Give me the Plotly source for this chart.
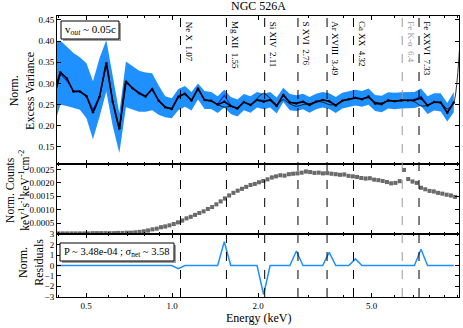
import math

import plotly.graph_objects as go
from plotly.subplots import make_subplots

# ---- data ----
# excess-variance spectrum, one value per energy bin (keV)
nxs_energy = [0.385, 0.406, 0.428, 0.451, 0.475, 0.501, 0.528, 0.557, 0.588, 0.619,
              0.653, 0.689, 0.726, 0.766, 0.807, 0.851, 0.897, 0.946, 0.997, 1.051,
              1.109, 1.169, 1.232, 1.299, 1.370, 1.444, 1.523, 1.605, 1.693, 1.784,
              1.882, 1.984, 2.092, 2.205, 2.325, 2.452, 2.585, 2.726, 2.874, 3.030,
              3.195, 3.368, 3.551, 3.744, 3.947, 4.161, 4.387, 4.626, 4.877, 5.142,
              5.421, 5.716, 6.027, 6.355, 6.699, 7.063, 7.447, 7.852, 8.279, 8.730,
              9.205, 9.703]
nxs = [0.266, 0.326, 0.312, 0.281, 0.281, 0.270, 0.232, 0.269, 0.348, 0.257,
       0.194, 0.304, 0.289, 0.277, 0.269, 0.287, 0.259, 0.244, 0.240, 0.268,
       0.276, 0.260, 0.288, 0.261, 0.259, 0.250, 0.257, 0.247, 0.241, 0.256,
       0.249, 0.261, 0.257, 0.261, 0.247, 0.273, 0.255, 0.253, 0.257, 0.249,
       0.257, 0.261, 0.258, 0.248, 0.259, 0.263, 0.266, 0.263, 0.269, 0.253,
       0.251, 0.260, 0.258, 0.260, 0.260, 0.261, 0.265, 0.248, 0.256, 0.255,
       0.231, 0.255]
nxs_blue = [0.270, 0.322, 0.306, 0.283, 0.282, 0.272, 0.238, 0.270, 0.345, 0.260,
            0.190, 0.302, 0.290, 0.279, 0.271, 0.285, 0.261, 0.245, 0.241, 0.272,
            0.274, 0.260, 0.286, 0.262, 0.259, 0.251, 0.272, 0.248, 0.242, 0.256,
            0.250, 0.262, 0.260, 0.261, 0.248, 0.272, 0.256, 0.254, 0.257, 0.250,
            0.258, 0.261, 0.259, 0.249, 0.260, 0.263, 0.266, 0.264, 0.269, 0.254,
            0.252, 0.260, 0.259, 0.260, 0.260, 0.262, 0.270, 0.249, 0.256, 0.255,
            0.232, 0.254]
band_hi = [0.400, 0.401, 0.387, 0.372, 0.362, 0.348, 0.305, 0.360, 0.403, 0.320,
           0.230, 0.352, 0.342, 0.330, 0.326, 0.324, 0.295, 0.270, 0.265, 0.287,
           0.294, 0.280, 0.300, 0.282, 0.280, 0.270, 0.285, 0.268, 0.262, 0.275,
           0.270, 0.280, 0.276, 0.280, 0.267, 0.290, 0.275, 0.272, 0.276, 0.268,
           0.276, 0.280, 0.277, 0.268, 0.278, 0.282, 0.285, 0.282, 0.288, 0.273,
           0.271, 0.279, 0.278, 0.279, 0.279, 0.280, 0.288, 0.270, 0.277, 0.277,
           0.254, 0.280]
band_lo = [0.200, 0.250, 0.247, 0.243, 0.238, 0.218, 0.168, 0.222, 0.281, 0.200,
           0.136, 0.244, 0.238, 0.233, 0.233, 0.237, 0.226, 0.220, 0.218, 0.237,
           0.245, 0.236, 0.262, 0.240, 0.240, 0.230, 0.243, 0.228, 0.222, 0.237,
           0.231, 0.243, 0.239, 0.243, 0.229, 0.256, 0.237, 0.235, 0.239, 0.231,
           0.239, 0.243, 0.240, 0.230, 0.241, 0.245, 0.248, 0.245, 0.250, 0.235,
           0.232, 0.241, 0.239, 0.241, 0.241, 0.242, 0.247, 0.228, 0.236, 0.234,
           0.210, 0.232]
model_energy = nxs_energy + [10.4]
model = [0.266, 0.326, 0.312, 0.281, 0.281, 0.270, 0.232, 0.269, 0.348, 0.257,
         0.194, 0.306, 0.289, 0.277, 0.269, 0.287, 0.259, 0.244, 0.240, 0.268,
         0.276, 0.260, 0.288, 0.261, 0.259, 0.250, 0.244, 0.246, 0.242, 0.256,
         0.249, 0.265, 0.277, 0.265, 0.250, 0.262, 0.252, 0.246, 0.250, 0.252,
         0.257, 0.256, 0.250, 0.250, 0.259, 0.263, 0.266, 0.263, 0.266, 0.256,
         0.254, 0.259, 0.258, 0.260, 0.260, 0.257, 0.247, 0.248, 0.256, 0.255,
         0.240, 0.255, 0.500]
residuals = [0, 0, 0, 0, 0, 0, 0, 0, 0, 0,
             0, 0, 0, 0, 0, 0, 0, 0, 0, -0.31,
             0, 0, 0, 0, 0, 0, 2.29, 0, 0, 0,
             0, 0, -2.79, 0, 0, 0, 0, 1.40, 0, 0,
             0, 0, 1.27, 0, 0, 0, 0.64, 0, 0, 0,
             0, 0, 0, 0, 0, 0, 1.56, 0, 0, 0,
             0, 0]

# normalised count spectrum
spec_energy = [0.400, 0.414, 0.429, 0.444, 0.459, 0.475, 0.492, 0.509, 0.527, 0.545,
               0.564, 0.584, 0.604, 0.626, 0.647, 0.670, 0.694, 0.718, 0.743, 0.769,
               0.796, 0.824, 0.853, 0.883, 0.914, 0.946, 0.979, 1.013, 1.048, 1.085,
               1.123, 1.162, 1.203, 1.245, 1.289, 1.334, 1.381, 1.429, 1.479, 1.531,
               1.584, 1.640, 1.697, 1.757, 1.818, 1.882, 1.948, 2.016, 2.086, 2.159,
               2.235, 2.313, 2.394, 2.478, 2.565, 2.654, 2.747, 2.843, 2.943, 3.046,
               3.152, 3.263, 3.377, 3.495, 3.617, 3.744, 3.875, 4.011, 4.151, 4.296,
               4.447, 4.602, 4.763, 4.930, 5.103, 5.281, 5.466, 5.657, 5.855, 6.060,
               6.272, 6.492, 6.719, 6.954, 7.198, 7.450, 7.710, 7.980, 8.259, 8.548,
               8.848, 9.157, 9.478, 9.810]
spec = [0.00012, 0.00012, 0.00012, 0.00012, 0.00012, 0.00012, 0.00012, 0.00012, 0.00013, 0.00013,
        0.00013, 0.00013, 0.00013, 0.00013, 0.00014, 0.00014, 0.00015, 0.00015, 0.00016, 0.00018,
        0.00020, 0.00023, 0.00027, 0.00030, 0.00035, 0.00038, 0.00042, 0.00047, 0.00053, 0.00060,
        0.00068, 0.00074, 0.00081, 0.00088, 0.00094, 0.00103, 0.00110, 0.00120, 0.00131, 0.00142,
        0.00153, 0.00163, 0.00171, 0.00178, 0.00185, 0.00192, 0.00196, 0.00202, 0.00207, 0.00213,
        0.00220, 0.00224, 0.00228, 0.00227, 0.00232, 0.00234, 0.00235, 0.00238, 0.00242, 0.00240,
        0.00237, 0.00238, 0.00235, 0.00236, 0.00234, 0.00232, 0.00230, 0.00231, 0.00226, 0.00224,
        0.00222, 0.00218, 0.00216, 0.00217, 0.00212, 0.00210, 0.00207, 0.00203, 0.00198, 0.00200,
        0.00206, 0.00248, 0.00214, 0.00205, 0.00200, 0.00182, 0.00176, 0.00170, 0.00168, 0.00163,
        0.00160, 0.00156, 0.00153, 0.00148]

# atomic lines marked on the plot
line_names = ["Ne X", "Mg XII", "Si XIV", "S XVI", "Ar XVIII", "Ca XX", "Fe K-\u03b1", "Fe XXVI"]
line_energies = [1.07, 1.55, 2.11, 2.76, 3.49, 4.32, 6.4, 7.33]
line_labels = ["1.07", "1.55", "2.11", "2.76", "3.49", "4.32", "6.4", "7.33"]

SERIF = "Liberation Serif, Times New Roman, serif"

# plot area in pixels: x 57..459, y 16..297
def px(x):
    return (x - 57) / 402


def py(y):
    return (297 - y) / 281


fig = make_subplots(rows=3, cols=1, shared_xaxes=True, vertical_spacing=0,
                    row_heights=[148 / 281, 70 / 281, 63 / 281])

# top panel: excess variance
fig.add_trace(go.Scatter(x=nxs_energy, y=band_hi, mode="lines",
                         line=dict(width=0, color="#1E90FF"), showlegend=False),
              row=1, col=1)
fig.add_trace(go.Scatter(x=nxs_energy, y=band_lo, mode="lines", fill="tonexty",
                         fillcolor="#1E90FF", line=dict(width=0, color="#1E90FF"),
                         showlegend=False), row=1, col=1)
fig.add_trace(go.Scatter(x=nxs_energy, y=nxs_blue, mode="lines",
                         line=dict(width=1.2, color="#1030E0"), showlegend=False),
              row=1, col=1)
fig.add_trace(go.Scatter(x=model_energy, y=model, mode="lines",
                         line=dict(width=0.8, color="black", shape="spline", smoothing=0.6),
                         showlegend=False), row=1, col=1)
fig.add_trace(go.Scatter(x=nxs_energy, y=nxs, mode="lines+markers",
                         line=dict(width=1.6, color="black"),
                         marker=dict(size=2.5, color="black"), showlegend=False),
              row=1, col=1)

# middle panel: counts
fig.add_trace(go.Scatter(x=spec_energy, y=spec, mode="markers",
                         marker=dict(symbol="square", size=4, color="#6a6a6a"),
                         error_y=dict(type="constant", value=0.00004, color="#7a7a7a",
                                      thickness=1.2, width=1.5),
                         showlegend=False), row=2, col=1)

# bottom panel: residuals
fig.add_trace(go.Scatter(x=nxs_energy, y=residuals, mode="lines",
                         line=dict(width=1.5, color="#1E90FF"), showlegend=False),
              row=3, col=1)

# vertical line markers with rotated labels
for name, energy, label in zip(line_names, line_energies, line_labels):
    colour = "#9a9a9a" if name.startswith("Fe K") else "black"
    fig.add_shape(type="line", xref="x", yref="paper", x0=energy, x1=energy,
                  y0=0, y1=1, line=dict(color=colour, width=1, dash="dash"))
    fig.add_annotation(x=math.log10(energy), y=0.988, xref="x", yref="paper",
                       text=name + "\u00a0\u00a0" + label, textangle=90, showarrow=False,
                       xanchor="left", yanchor="top", xshift=1,
                       font=dict(family=SERIF, size=9, color=colour))

axis_common = dict(showline=True, linecolor="black", linewidth=1, mirror="ticks",
                   ticks="inside", ticklen=4, tickcolor="black", showgrid=False,
                   zeroline=False, automargin=False,
                   tickfont=dict(family=SERIF, size=9, color="black"))

x_minor = [0.4, 0.6, 0.7, 0.8, 0.9, 3, 4, 6, 7, 8, 9, 10]
for r in (1, 2, 3):
    fig.update_xaxes(type="log", range=[math.log10(0.395), math.log10(10.12)],
                     tickvals=[0.5, 1, 2, 5], ticktext=["0.5", "1.0", "2.0", "5.0"],
                     showticklabels=(r == 3),
                     minor=dict(tickvals=x_minor, ticks="inside", ticklen=2,
                                tickcolor="black"),
                     row=r, col=1, **axis_common)

fig.update_yaxes(range=[0.1098, 0.4594], tickvals=[0.15, 0.20, 0.25, 0.30, 0.35, 0.40, 0.45],
                 tickformat=".2f", row=1, col=1, **axis_common)
fig.update_yaxes(range=[0.0001, 0.0027], tickvals=[0.0005, 0.0010, 0.0015, 0.0020, 0.0025],
                 tickformat=".4f", row=2, col=1, **axis_common)
fig.update_yaxes(range=[-3.03, 3.03], tickvals=[-3, -2, -1, 0, 1, 2, 3],
                 row=3, col=1, **axis_common)

# text boxes with a grey drop shadow
for (x0, y0, x1, y1) in [(61, 21, 119, 39), (60, 243, 174, 261)]:
    fig.add_shape(type="rect", xref="paper", yref="paper",
                  x0=px(x0 + 2), x1=px(x1 + 2), y0=py(y1 + 2), y1=py(y0 + 2),
                  fillcolor="#a0a0a0", line=dict(width=0), layer="above")
    fig.add_shape(type="rect", xref="paper", yref="paper",
                  x0=px(x0), x1=px(x1), y0=py(y1), y1=py(y0),
                  fillcolor="white", line=dict(width=1, color="black"), layer="above")
fig.add_annotation(x=px(90), y=py(30), xref="paper", yref="paper",
                   text="v<sub><i>out</i></sub> ~ 0.05c", showarrow=False,
                   xanchor="center", yanchor="middle",
                   font=dict(family=SERIF, size=11, color="black"))
fig.add_annotation(x=px(117), y=py(252), xref="paper", yref="paper",
                   text="P ~ 3.48e-04 ; \u03c3<sub>net</sub> ~ 3.58", showarrow=False,
                   xanchor="center", yanchor="middle",
                   font=dict(family=SERIF, size=10.5, color="black"))

# titles
fig.add_annotation(x=0.5, y=1, xref="paper", yref="paper", text="NGC 526A",
                   showarrow=False, yanchor="bottom", yshift=1,
                   font=dict(family=SERIF, size=12, color="black"))
fig.add_annotation(x=0.5, y=py(318), xref="paper", yref="paper", text="Energy (keV)",
                   showarrow=False, yanchor="middle",
                   font=dict(family=SERIF, size=12, color="black"))
fig.add_annotation(x=-0.086, y=0.735, xref="paper", yref="paper",
                   text="Norm.<br>Excess Variance", textangle=-90, showarrow=False,
                   xanchor="center", yanchor="middle",
                   font=dict(family=SERIF, size=12, color="black"))
fig.add_annotation(x=-0.098, y=0.38, xref="paper", yref="paper",
                   text="Norm. Counts<br>keV<sup>1</sup>s<sup>-1</sup>keV<sup>-1</sup>cm<sup>-2</sup>",
                   textangle=-90, showarrow=False, xanchor="center", yanchor="middle",
                   font=dict(family=SERIF, size=11.5, color="black"))
fig.add_annotation(x=-0.065, y=0.125, xref="paper", yref="paper",
                   text="Norm.<br>Residuals", textangle=-90, showarrow=False,
                   xanchor="center", yanchor="middle",
                   font=dict(family=SERIF, size=12, color="black"))

fig.update_layout(width=463, height=328, margin=dict(l=57, r=4, t=16, b=31),
                  paper_bgcolor="white", plot_bgcolor="white", showlegend=False)

# the page's default body margin would offset the figure by 8 px
fig.write_html("out.html", config={"displayModeBar": False},
               post_script="document.body.style.margin = '0px';")
